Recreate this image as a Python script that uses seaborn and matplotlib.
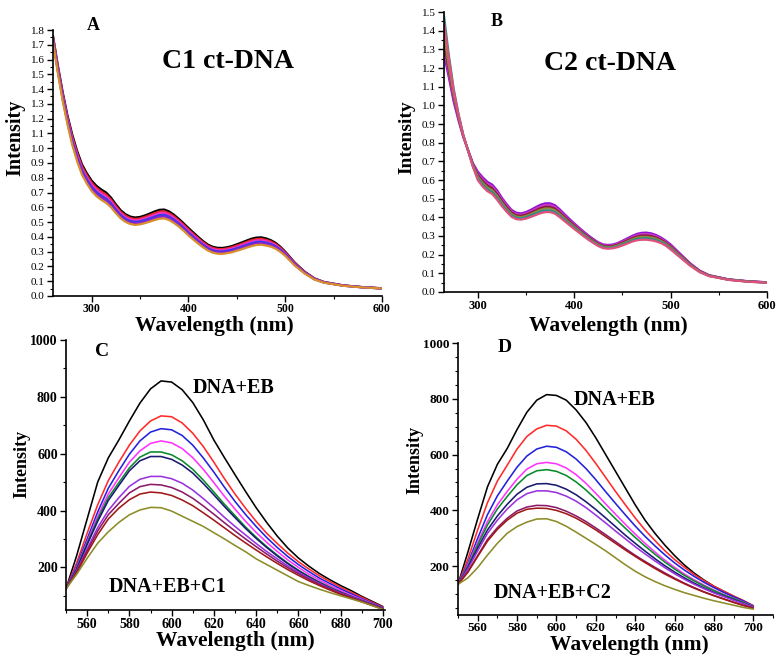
import numpy as np
import pandas as pd
import matplotlib
matplotlib.use("Agg")
import matplotlib.pyplot as plt
import seaborn as sns
from matplotlib.ticker import MultipleLocator

# ---------------- data ----------------
# Panel A : C1 + ct-DNA absorption
wl_a = [260, 265, 270, 275, 280, 285, 290, 295, 300, 305, 310, 315, 320, 325,
        330, 335, 340, 345, 350, 355, 360, 365, 370, 375,
        380, 385, 390, 395, 400, 405, 410, 415, 420, 425,
        430, 435, 440, 445, 450, 455, 460, 465, 470, 475,
        480, 485, 490, 495, 500,
        510, 520, 530, 540, 560, 580, 600]
a_black = [1.76, 1.56, 1.38, 1.22, 1.09, 0.98, 0.89, 0.83, 0.78, 0.745, 0.72, 0.70, 0.665, 0.62,
           0.58, 0.553, 0.537, 0.531, 0.535, 0.545, 0.558, 0.572, 0.583, 0.585,
           0.572, 0.55, 0.522, 0.492, 0.46, 0.43, 0.40, 0.372, 0.348, 0.333,
           0.326, 0.325, 0.33, 0.338, 0.35, 0.362, 0.375, 0.387, 0.395, 0.397,
           0.39, 0.378, 0.36, 0.333, 0.30,
           0.225, 0.165, 0.12, 0.095, 0.072, 0.06, 0.052]
a_red = [1.752, 1.55, 1.368, 1.208, 1.076, 0.966, 0.876, 0.816, 0.766, 0.731, 0.706, 0.686, 0.652, 0.608,
         0.569, 0.543, 0.527, 0.521, 0.525, 0.535, 0.547, 0.560, 0.571, 0.573,
         0.560, 0.539, 0.512, 0.482, 0.45, 0.42, 0.391, 0.364, 0.34, 0.325,
         0.318, 0.317, 0.322, 0.33, 0.341, 0.353, 0.365, 0.377, 0.385, 0.387,
         0.38, 0.369, 0.352, 0.326, 0.294,
         0.221, 0.162, 0.118, 0.094, 0.071, 0.06, 0.052]
a_magenta = [1.744, 1.54, 1.356, 1.196, 1.062, 0.952, 0.862, 0.802, 0.752, 0.717, 0.692, 0.672, 0.639, 0.596,
             0.558, 0.532, 0.517, 0.511, 0.515, 0.524, 0.536, 0.549, 0.559, 0.561,
             0.549, 0.528, 0.501, 0.472, 0.44, 0.411, 0.382, 0.355, 0.332, 0.317,
             0.31, 0.309, 0.314, 0.321, 0.332, 0.344, 0.356, 0.367, 0.375, 0.377,
             0.371, 0.36, 0.344, 0.319, 0.289,
             0.217, 0.16, 0.117, 0.093, 0.071, 0.059, 0.052]
a_blue = [1.736, 1.53, 1.344, 1.184, 1.048, 0.938, 0.848, 0.788, 0.738, 0.703, 0.678, 0.658, 0.626, 0.584,
          0.547, 0.522, 0.507, 0.501, 0.505, 0.514, 0.525, 0.537, 0.547, 0.549,
          0.537, 0.516, 0.491, 0.462, 0.43, 0.401, 0.373, 0.347, 0.324, 0.309,
          0.302, 0.301, 0.306, 0.313, 0.324, 0.334, 0.346, 0.357, 0.365, 0.367,
          0.361, 0.352, 0.336, 0.313, 0.283,
          0.213, 0.157, 0.115, 0.092, 0.07, 0.059, 0.051]
a_violet = [1.728, 1.52, 1.332, 1.172, 1.034, 0.924, 0.834, 0.774, 0.724, 0.689, 0.664, 0.644, 0.613, 0.572,
            0.536, 0.511, 0.497, 0.491, 0.495, 0.503, 0.514, 0.526, 0.535, 0.537,
            0.526, 0.505, 0.48, 0.452, 0.42, 0.392, 0.364, 0.338, 0.316, 0.301,
            0.294, 0.293, 0.298, 0.304, 0.315, 0.325, 0.337, 0.347, 0.355, 0.357,
            0.352, 0.343, 0.328, 0.306, 0.278,
            0.209, 0.155, 0.114, 0.091, 0.07, 0.058, 0.051]
a_orange = [1.72, 1.51, 1.32, 1.16, 1.02, 0.91, 0.82, 0.76, 0.71, 0.675, 0.65, 0.63, 0.60, 0.56,
            0.525, 0.501, 0.487, 0.481, 0.485, 0.493, 0.503, 0.514, 0.523, 0.525,
            0.514, 0.494, 0.47, 0.442, 0.41, 0.382, 0.355, 0.33, 0.308, 0.293,
            0.286, 0.285, 0.29, 0.296, 0.306, 0.316, 0.327, 0.337, 0.345, 0.347,
            0.342, 0.334, 0.32, 0.299, 0.272,
            0.205, 0.152, 0.112, 0.09, 0.069, 0.058, 0.051]

# Panel B : C2 + ct-DNA absorption
wl_b = [265, 270, 275, 280, 285, 290, 295, 300, 305, 310, 315, 320, 325,
        330, 335, 340, 345, 350, 355, 360, 365, 370, 375,
        380, 385, 390, 395, 400, 405, 410, 415, 420, 425,
        430, 435, 440, 445, 450, 455, 460, 465, 470, 475,
        480, 485, 490, 495, 500,
        510, 520, 530, 540, 560, 580, 600]
b_purple = [1.27, 1.15, 1.02, 0.92, 0.83, 0.76, 0.69, 0.645, 0.615, 0.59, 0.575, 0.545, 0.505,
            0.47, 0.44, 0.425, 0.421, 0.428, 0.44, 0.454, 0.467, 0.475, 0.475,
            0.465, 0.443, 0.417, 0.392, 0.368, 0.345, 0.323, 0.302, 0.283, 0.266,
            0.255, 0.252, 0.254, 0.262, 0.274, 0.287, 0.30, 0.311, 0.317, 0.318,
            0.314, 0.305, 0.292, 0.275, 0.255,
            0.205, 0.155, 0.115, 0.09, 0.068, 0.058, 0.052]
b_magenta = [1.30, 1.17, 1.035, 0.93, 0.833, 0.759, 0.686, 0.636, 0.605, 0.58, 0.565, 0.535, 0.496,
             0.462, 0.433, 0.418, 0.414, 0.421, 0.432, 0.446, 0.458, 0.466, 0.466,
             0.456, 0.435, 0.410, 0.385, 0.362, 0.340, 0.318, 0.297, 0.279, 0.262,
             0.251, 0.248, 0.25, 0.258, 0.269, 0.281, 0.294, 0.304, 0.310, 0.310,
             0.307, 0.298, 0.286, 0.270, 0.250,
             0.201, 0.152, 0.113, 0.089, 0.067, 0.057, 0.052]
b_wine = [1.34, 1.19, 1.05, 0.937, 0.836, 0.758, 0.682, 0.627, 0.595, 0.57, 0.555, 0.525, 0.487,
          0.454, 0.426, 0.411, 0.408, 0.414, 0.425, 0.437, 0.449, 0.456, 0.456,
          0.447, 0.426, 0.402, 0.379, 0.356, 0.334, 0.313, 0.293, 0.275, 0.258,
          0.247, 0.244, 0.246, 0.253, 0.264, 0.276, 0.288, 0.297, 0.302, 0.303,
          0.299, 0.291, 0.28, 0.264, 0.244,
          0.197, 0.15, 0.112, 0.088, 0.067, 0.057, 0.051]
b_olive = [1.38, 1.21, 1.06, 0.943, 0.838, 0.757, 0.678, 0.618, 0.585, 0.56, 0.545, 0.515, 0.478,
           0.446, 0.418, 0.404, 0.401, 0.407, 0.417, 0.429, 0.44, 0.447, 0.447,
           0.438, 0.418, 0.395, 0.372, 0.35, 0.329, 0.308, 0.288, 0.270, 0.254,
           0.243, 0.24, 0.242, 0.249, 0.259, 0.27, 0.282, 0.291, 0.295, 0.295,
           0.292, 0.285, 0.274, 0.259, 0.239,
           0.193, 0.147, 0.11, 0.087, 0.066, 0.056, 0.051]
b_teal = [1.48, 1.27, 1.09, 0.955, 0.842, 0.756, 0.674, 0.609, 0.575, 0.55, 0.535, 0.505, 0.469,
          0.438, 0.41, 0.397, 0.395, 0.40, 0.41, 0.42, 0.431, 0.437, 0.437,
          0.429, 0.409, 0.387, 0.366, 0.344, 0.323, 0.303, 0.284, 0.266, 0.25,
          0.239, 0.236, 0.238, 0.244, 0.254, 0.265, 0.276, 0.284, 0.287, 0.288,
          0.284, 0.278, 0.268, 0.253, 0.233,
          0.189, 0.145, 0.108, 0.086, 0.066, 0.056, 0.05]
b_pink = [1.44, 1.25, 1.08, 0.95, 0.84, 0.755, 0.67, 0.60, 0.565, 0.54, 0.525, 0.495, 0.46,
          0.43, 0.403, 0.39, 0.388, 0.393, 0.402, 0.412, 0.422, 0.428, 0.428,
          0.42, 0.401, 0.38, 0.359, 0.338, 0.318, 0.298, 0.279, 0.262, 0.246,
          0.235, 0.232, 0.234, 0.24, 0.249, 0.259, 0.27, 0.277, 0.28, 0.28,
          0.277, 0.271, 0.262, 0.248, 0.228,
          0.185, 0.142, 0.107, 0.085, 0.065, 0.055, 0.05]

# Panels C and D : EB displacement fluorescence
wl_f = [550, 555, 560, 565, 570, 575, 580, 585, 590, 595, 600, 605, 610, 615, 620, 625,
        630, 635, 640, 645, 650, 655, 660, 665, 670, 675, 680, 685, 690, 695, 700]
c_black = [125, 240, 370, 500, 585, 648, 715, 778, 828, 856, 852, 825, 780, 719, 648, 586,
           526, 467, 410, 358, 310, 268, 233, 204, 178, 156, 136, 118, 98, 80, 62]
c_red = [125, 215, 320, 420, 505, 570, 630, 680, 715, 733, 730, 708, 672, 625, 570, 512,
         458, 408, 362, 320, 284, 250, 220, 194, 170, 150, 130, 112, 95, 77, 60]
c_blue = [125, 205, 300, 395, 478, 540, 598, 645, 676, 688, 684, 664, 630, 585, 535, 482,
          432, 386, 344, 305, 270, 238, 210, 185, 162, 143, 124, 107, 90, 74, 58]
c_magenta = [125, 200, 290, 380, 458, 515, 570, 610, 636, 645, 638, 618, 586, 545, 498, 450,
             405, 362, 323, 288, 256, 226, 200, 176, 155, 136, 118, 102, 87, 72, 57]
c_green = [125, 196, 284, 370, 445, 498, 550, 588, 606, 606, 596, 575, 545, 507, 465, 422,
           382, 342, 306, 273, 243, 215, 190, 168, 148, 130, 113, 98, 84, 70, 56]
c_navy = [125, 193, 280, 362, 435, 488, 540, 575, 590, 590, 580, 560, 532, 495, 455, 414,
          375, 337, 302, 270, 240, 213, 188, 166, 146, 128, 112, 97, 83, 69, 56]
c_violet = [125, 188, 265, 340, 400, 445, 485, 510, 520, 520, 512, 496, 472, 442, 410, 376,
            344, 314, 284, 256, 230, 205, 183, 162, 143, 126, 110, 96, 82, 68, 55]
c_plum = [125, 185, 258, 328, 385, 425, 462, 484, 492, 490, 481, 465, 443, 416, 387, 357,
          328, 300, 273, 247, 222, 199, 178, 158, 140, 124, 108, 94, 81, 67, 54]
c_darkred = [125, 180, 250, 315, 370, 408, 438, 458, 465, 462, 453, 437, 417, 392, 366, 339,
             312, 286, 261, 237, 214, 192, 172, 153, 136, 120, 105, 92, 79, 66, 53]
c_olive = [125, 175, 232, 285, 325, 358, 385, 402, 411, 410, 398, 380, 362, 344, 322, 300,
           277, 255, 230, 210, 190, 170, 150, 136, 123, 111, 100, 89, 78, 65, 52]

d_black = [135, 250, 370, 485, 565, 622, 690, 752, 795, 815, 812, 795, 760, 715, 660, 600,
           540, 480, 420, 365, 318, 276, 238, 204, 175, 150, 128, 110, 92, 75, 58]
d_red = [135, 225, 330, 428, 505, 562, 620, 665, 692, 705, 702, 685, 655, 615, 568, 518,
         468, 420, 373, 330, 292, 256, 224, 196, 170, 148, 128, 110, 93, 77, 58]
d_blue = [135, 210, 300, 385, 452, 505, 555, 595, 620, 630, 626, 610, 584, 550, 510, 467,
          425, 384, 344, 307, 273, 241, 212, 186, 163, 142, 123, 106, 90, 75, 57]
d_magenta = [135, 205, 285, 360, 420, 468, 512, 548, 567, 572, 567, 552, 528, 497, 461, 423,
             386, 350, 315, 282, 251, 222, 196, 172, 151, 132, 114, 99, 85, 71, 56]
d_green = [135, 200, 276, 348, 405, 450, 492, 525, 542, 546, 540, 525, 502, 473, 440, 405,
           370, 336, 303, 272, 243, 215, 190, 167, 147, 129, 112, 97, 84, 70, 55]
d_navy = [135, 195, 265, 330, 380, 422, 458, 483, 495, 496, 490, 476, 456, 431, 403, 373,
          342, 311, 282, 254, 227, 202, 179, 158, 139, 122, 106, 93, 80, 67, 54]
d_violet = [135, 190, 255, 318, 365, 405, 438, 460, 470, 470, 464, 451, 433, 410, 383, 355,
            326, 298, 270, 244, 219, 195, 173, 153, 135, 119, 104, 91, 78, 66, 53]
d_plum = [135, 180, 238, 296, 338, 372, 398, 412, 418, 417, 410, 397, 380, 360, 337, 313,
          288, 263, 239, 217, 196, 176, 157, 139, 123, 108, 95, 83, 71, 60, 50]
d_darkred = [135, 178, 235, 290, 332, 365, 390, 404, 408, 407, 400, 388, 372, 352, 330, 306,
             282, 258, 235, 213, 192, 172, 154, 137, 121, 107, 94, 82, 70, 59, 49]
d_olive = [135, 158, 195, 240, 282, 318, 342, 358, 369, 370, 360, 343, 322, 300, 278, 255,
           230, 205, 182, 162, 145, 130, 117, 105, 95, 85, 76, 68, 60, 52, 46]

# tick labels
ya_ticks = [0.0, 0.1, 0.2, 0.3, 0.4, 0.5, 0.6, 0.7, 0.8, 0.9, 1.0, 1.1, 1.2, 1.3, 1.4, 1.5, 1.6, 1.7, 1.8]
yb_ticks = [0.0, 0.1, 0.2, 0.3, 0.4, 0.5, 0.6, 0.7, 0.8, 0.9, 1.0, 1.1, 1.2, 1.3, 1.4, 1.5]
x_uv_ticks = [300, 400, 500, 600]
x_fl_ticks = [560, 580, 600, 620, 640, 660, 680, 700]
y_fl_ticks = [200, 400, 600, 800, 1000]

# ---------------- style ----------------
sns.set_theme(style="ticks")
plt.rcParams["font.family"] = ["Liberation Serif", "DejaVu Serif"]
plt.rcParams["axes.linewidth"] = 1.2
plt.rcParams["axes.edgecolor"] = "black"
plt.rcParams["xtick.color"] = "black"
plt.rcParams["ytick.color"] = "black"

W, H = 783, 659
fig = plt.figure(figsize=(W / 100, H / 100), dpi=100)
fig.patch.set_facecolor("white")


def ax_at(l, t, r, b):
    return fig.add_axes([l / W, 1 - b / H, (r - l) / W, (b - t) / H])


def draw(ax, wl, series, colors, lw):
    rows = []
    for name, vals in series.items():
        rows.append(pd.DataFrame({"wl": wl, "val": vals, "series": name}))
    df = pd.concat(rows, ignore_index=True)
    sns.lineplot(data=df, x="wl", y="val", hue="series", hue_order=list(series.keys()),
                 palette=colors, legend=False, ax=ax, lw=lw, estimator=None, sort=False)
    ax.set_xlabel("")
    ax.set_ylabel("")
    sns.despine(ax=ax)
    ax.set_facecolor("white")
    ax.tick_params(which="major", direction="out", length=4, width=1.0, pad=2)
    ax.tick_params(which="minor", direction="out", length=2.5, width=0.8)


def ftext(x, y, s, size, rot=0, weight="bold"):
    fig.text(x / W, 1 - y / H, s, ha="center", va="center", fontsize=size,
             fontweight=weight, rotation=rot, color="black")


# Panel A
axA = ax_at(53, 30, 382, 296)
draw(axA, wl_a, {"black": a_black, "red": a_red, "magenta": a_magenta, "blue": a_blue,
                 "violet": a_violet, "orange": a_orange},
     {"black": "#000000", "red": "#e8242c", "magenta": "#f030d0", "blue": "#3a3ae0",
      "violet": "#8a22d8", "orange": "#d8902a"}, 1.6)
axA.set_xlim(260, 600)
axA.set_ylim(0, 1.8)
axA.set_xticks(x_uv_ticks, [str(t) for t in x_uv_ticks], fontsize=8.5, fontweight="bold")
axA.set_yticks(ya_ticks, [f"{t:.1f}" for t in ya_ticks], fontsize=8)
axA.tick_params(axis="x", which="major", pad=1)
axA.xaxis.set_minor_locator(MultipleLocator(50))
axA.yaxis.set_minor_locator(MultipleLocator(0.05))

# Panel B
axB = ax_at(444, 12, 767, 292)
draw(axB, wl_b, {"purple": b_purple, "magenta": b_magenta, "wine": b_wine, "olive": b_olive,
                 "teal": b_teal, "pink": b_pink},
     {"purple": "#9010d0", "magenta": "#c838c8", "wine": "#8b1a3a", "olive": "#8c8c3c",
      "teal": "#2e8b8b", "pink": "#e0507a"}, 1.6)
axB.set_xlim(265, 600)
axB.set_ylim(0, 1.5)
axB.set_xticks(x_uv_ticks, [str(t) for t in x_uv_ticks], fontsize=9, fontweight="bold")
axB.set_yticks(yb_ticks, [f"{t:.1f}" for t in yb_ticks], fontsize=8)
axB.xaxis.set_minor_locator(MultipleLocator(50))
axB.yaxis.set_minor_locator(MultipleLocator(0.05))

fl_colors = {"black": "#000000", "red": "#ff2a2a", "blue": "#2222dd", "magenta": "#ff33ff",
             "green": "#0a8a2a", "navy": "#1a1a70", "violet": "#9933dd", "plum": "#8b1a6b",
             "darkred": "#a01818", "olive": "#8c8c28"}

# Panel C
axC = ax_at(66, 340, 385, 610)
draw(axC, wl_f, {"black": c_black, "red": c_red, "blue": c_blue, "magenta": c_magenta,
                 "green": c_green, "navy": c_navy, "violet": c_violet, "plum": c_plum,
                 "darkred": c_darkred, "olive": c_olive}, fl_colors, 1.15)
axC.set_xlim(550, 701)
axC.set_ylim(50, 1000)
axC.set_xticks(x_fl_ticks, [str(t) for t in x_fl_ticks], fontsize=10, fontweight="bold")
axC.set_yticks(y_fl_ticks, [str(t) for t in y_fl_ticks], fontsize=10, fontweight="bold")
axC.xaxis.set_minor_locator(MultipleLocator(10))
axC.yaxis.set_minor_locator(MultipleLocator(100))

# Panel D
axD = ax_at(458, 343, 773, 615)
draw(axD, wl_f, {"black": d_black, "red": d_red, "blue": d_blue, "magenta": d_magenta,
                 "green": d_green, "navy": d_navy, "violet": d_violet, "plum": d_plum,
                 "darkred": d_darkred, "olive": d_olive}, fl_colors, 1.15)
axD.set_xlim(550, 710)
axD.set_ylim(25, 1000)
axD.set_xticks(x_fl_ticks, [str(t) for t in x_fl_ticks], fontsize=9.5, fontweight="bold")
axD.set_yticks(y_fl_ticks, [str(t) for t in y_fl_ticks], fontsize=9.5, fontweight="bold")
axD.tick_params(axis="x", which="major", pad=1)
axD.xaxis.set_minor_locator(MultipleLocator(10))
axD.yaxis.set_minor_locator(MultipleLocator(50))

# ---------------- texts ----------------
ftext(93, 25, "A", 13)
ftext(228, 62, "C1 ct-DNA", 20)
ftext(497, 22, "B", 13)
ftext(610, 63, "C2 ct-DNA", 20)
ftext(102, 352, "C", 14)
ftext(505, 348, "D", 14)
ftext(234, 388, "DNA+EB", 14.5)
ftext(168, 587, "DNA+EB+C1", 14.5)
ftext(615, 400, "DNA+EB", 14.5)
ftext(553, 593, "DNA+EB+C2", 14.5)

ftext(15, 138, "Intensity", 14.5, rot=90)
ftext(407, 137, "Intensity", 14, rot=90)
ftext(22, 464, "Intensity", 13, rot=90)
ftext(415, 460, "Intensity", 13, rot=90)
ftext(214, 326, "Wavelength (nm)", 15.5)
ftext(608, 326, "Wavelength (nm)", 15.5)
ftext(235, 641, "Wavelength (nm)", 15.5)
ftext(629, 645, "Wavelength (nm)", 15.5)

fig.savefig("out.png", dpi=100, facecolor="white")
